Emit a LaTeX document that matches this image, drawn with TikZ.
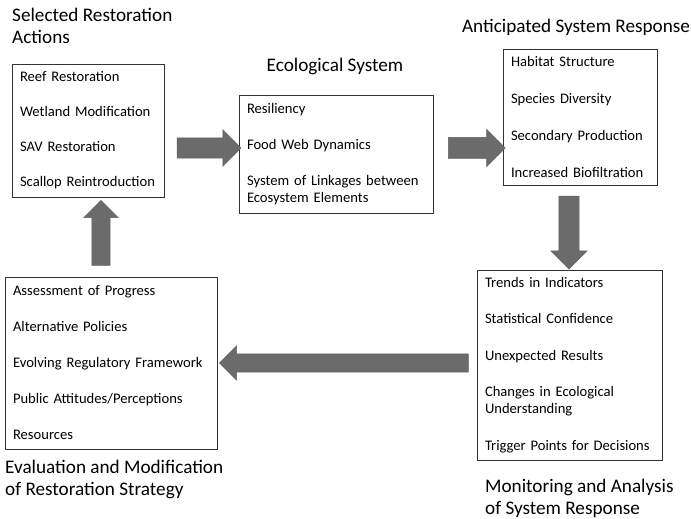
\documentclass[tikz,border=0pt]{standalone}
\usepackage{fontspec}
\setmainfont{Carlito}
\usetikzlibrary{positioning,shapes.arrows}

\begin{document}
\begin{tikzpicture}[x=1pt,y=-1pt,
                       box/.style={draw=black!80,line width=0.7pt,align=left,
                                   inner xsep=8pt,font=\fontsize{14.6}{17}\selectfont},
                       title/.style={align=left,inner sep=0pt,
                                     font=\fontsize{19.2}{22}\selectfont},
                       fat arrow/.style={single arrow,fill=black!58,draw=black!62,
                                         inner xsep=0pt,minimum width=0pt,
                                         single arrow head extend=8pt}
                           ]
   \useasboundingbox (0,0) rectangle (691,519);
   % boxes
   \node[box,text width=136pt,minimum height=133pt] (act) at (88,130.5)
      {Reef Restoration\\[18pt]Wetland Modification\\[18pt]SAV Restoration\\[18pt]Scallop Reintroduction};
   \node[box,text width=178pt,minimum height=118pt] (eco) at (336,154)
      {Resiliency\\[19pt]Food Web Dynamics\\[19pt]System of Linkages between\\Ecosystem Elements};
   \node[box,text width=138pt,minimum height=136pt] (resp) at (580,117)
      {Habitat Structure\\[20pt]Species Diversity\\[20pt]Secondary Production\\[20pt]Increased Biofiltration};
   \node[box,text width=169pt,minimum height=190pt] (mon) at (569.5,365)
      {Trends in Indicators\\[19.5pt]Statistical Confidence\\[19.5pt]Unexpected Results\\[19.5pt]Changes in Ecological\\Understanding\\[19.5pt]Trigger Points for Decisions};
   \node[box,text width=196pt,minimum height=172pt] (eva) at (111,363)
      {Assessment of Progress\\[19pt]Alternative Policies\\[19pt]Evolving Regulatory Framework\\[19pt]Public Attitudes/Perceptions\\[19pt]Resources};
   % titles
   \node[title,anchor=base west] (t1) at (12,43.5) {Selected Restoration\\Actions};
   \node[title,anchor=base] (t2) at (335,71) {Ecological System};
   \node[title,anchor=base] (t3) at (576,33) {Anticipated System Response};
   \node[title,anchor=base west] (t4) at (485,514) {Monitoring and Analysis\\of System Response};
   \node[title,anchor=base west] (t5) at (5,495) {Evaluation and Modification\\of Restoration Strategy};
   % arrows
   \node[fat arrow,minimum height=64pt,inner ysep=10pt] (a1) at (204,148) {};
   \node[fat arrow,minimum height=57pt,inner ysep=10.5pt] (a2) at (471.5,148) {};
   \node[fat arrow,minimum height=73pt,inner ysep=10pt,rotate=-90] (a3) at (569,227.5) {};
   \node[fat arrow,minimum height=249pt,inner ysep=9pt,rotate=180] (a4) at (348.5,363) {};
   \node[fat arrow,minimum height=65pt,inner ysep=9pt,rotate=90] (a5) at (101,237.5) {};
\end{tikzpicture}
\end{document}
